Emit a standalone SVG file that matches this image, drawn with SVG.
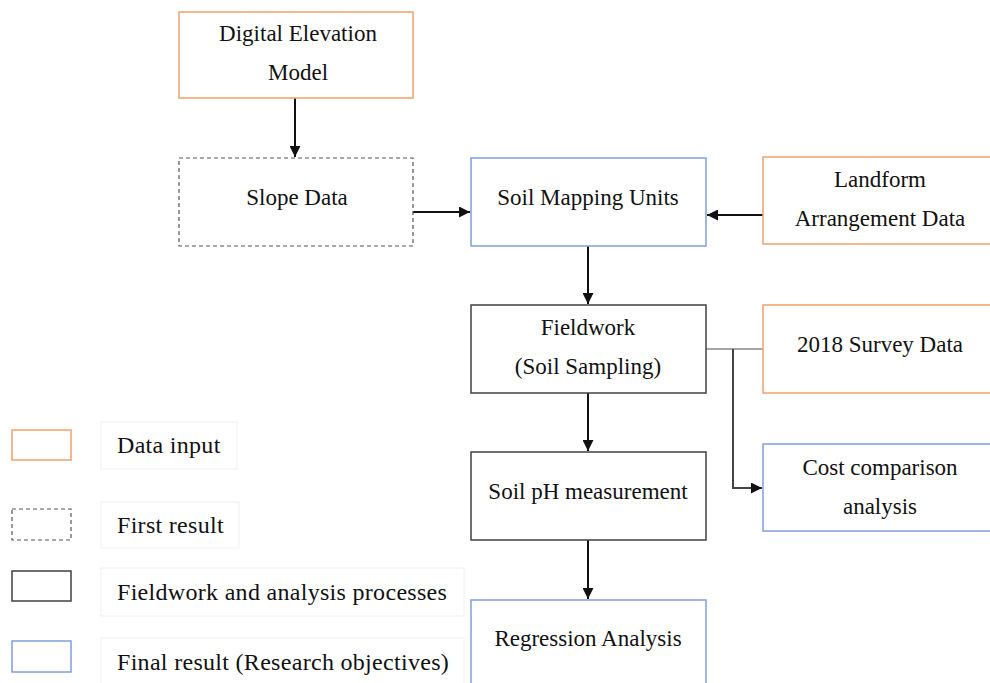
<svg xmlns="http://www.w3.org/2000/svg" width="990" height="683" viewBox="0 0 990 683">
<style>
.t{text-anchor:middle}
.or{fill:#fff;stroke:#F4A06C;stroke-width:1.5}
.bl{fill:#fff;stroke:#7F9FDB;stroke-width:1.5}
.dk{fill:#fff;stroke:#404040;stroke-width:1.5}
.ds{fill:#fff;stroke:#555;stroke-width:1.2;stroke-dasharray:4,3}
.lb{fill:#fff;stroke:#f0f0f0;stroke-width:1}
.c{fill:none;stroke:#111;stroke-width:2}
.g{fill:none;stroke:#888;stroke-width:1.5}
</style>
<defs>
<marker id="ah" viewBox="0 0 10 10" refX="10" refY="5" markerWidth="11" markerHeight="11" markerUnits="userSpaceOnUse" orient="auto">
<path d="M0,0 L10,5 L0,10 z" fill="#111"/>
</marker>
</defs>
<rect width="990" height="683" fill="#fff"/>
<g id="connectors">
<line class="c" x1="295" y1="98" x2="295" y2="157" marker-end="url(#ah)"/>
<line class="c" x1="413" y1="212" x2="470" y2="212" marker-end="url(#ah)"/>
<line class="c" x1="763" y1="215" x2="707" y2="215" marker-end="url(#ah)"/>
<line class="c" x1="588" y1="246" x2="588" y2="304" marker-end="url(#ah)"/>
<line class="g" x1="706" y1="349" x2="763" y2="349"/>
<polyline class="c" style="stroke:#444" points="733,349 733,488 762,488" marker-end="url(#ah)"/>
<line class="c" x1="588" y1="393" x2="588" y2="451" marker-end="url(#ah)"/>
<line class="c" x1="588" y1="540" x2="588" y2="599" marker-end="url(#ah)"/>
</g>
<g font-family="Liberation Serif, serif" font-size="23" fill="#111">
<g id="dem"><rect class="or" x="179" y="12" width="234" height="86"/>
<text class="t" x="298" y="41">Digital Elevation</text><text class="t" x="298" y="80">Model</text></g>
<g id="slope"><rect class="ds" x="179" y="158" width="234" height="88"/>
<text class="t" x="297" y="205">Slope Data</text></g>
<g id="smu"><rect class="bl" x="471" y="158" width="235" height="88"/>
<text class="t" x="588" y="205">Soil Mapping Units</text></g>
<g id="landform"><rect class="or" x="763" y="157" width="232" height="87"/>
<text class="t" x="880" y="187">Landform</text><text class="t" x="880" y="226">Arrangement Data</text></g>
<g id="fieldwork"><rect class="dk" x="471" y="305" width="235" height="88"/>
<text class="t" x="588" y="335">Fieldwork</text><text class="t" x="588" y="374">(Soil Sampling)</text></g>
<g id="survey"><rect class="or" x="763" y="305" width="232" height="88"/>
<text class="t" x="880" y="352">2018 Survey Data</text></g>
<g id="ph"><rect class="dk" x="471" y="452" width="235" height="88"/>
<text class="t" x="588" y="499">Soil pH measurement</text></g>
<g id="cost"><rect class="bl" x="763" y="444" width="232" height="87"/>
<text class="t" x="880" y="475">Cost comparison</text><text class="t" x="880" y="514">analysis</text></g>
<g id="regression"><rect class="bl" x="471" y="600" width="235" height="95"/>
<text class="t" x="588" y="646">Regression Analysis</text></g>
<g id="legend" font-size="24" letter-spacing="0.3">
<rect class="or" x="12" y="430" width="59" height="30"/>
<rect class="lb" x="101" y="422" width="136" height="47"/>
<text x="117" y="453">Data input</text>
<rect class="ds" x="12" y="509" width="59" height="31"/>
<rect class="lb" x="101" y="502" width="138" height="46"/>
<text x="117" y="533">First result</text>
<rect class="dk" x="12" y="571" width="59" height="30"/>
<rect class="lb" x="101" y="568" width="363" height="48"/>
<text x="117" y="600">Fieldwork and analysis processes</text>
<rect class="bl" x="12" y="641" width="59" height="31"/>
<rect class="lb" x="101" y="638" width="363" height="50"/>
<text x="117" y="670">Final result (Research objectives)</text>
</g>
</g>
</svg>
